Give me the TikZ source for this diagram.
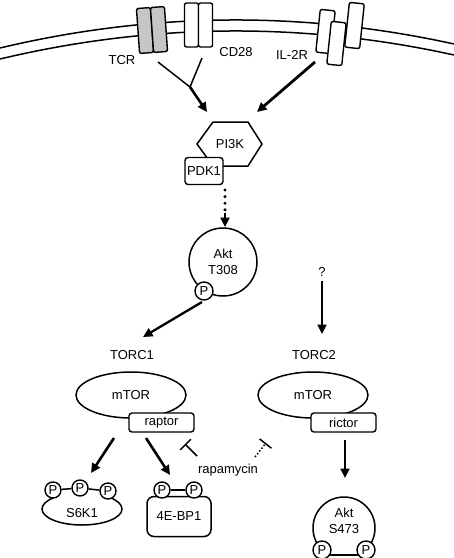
\documentclass[tikz,border=0pt]{standalone}
\usepackage{fontspec}
\setmainfont{Liberation Sans}
\usetikzlibrary{arrows.meta,shapes.geometric}
\begin{document}
\begin{tikzpicture}[x=1pt,y=1pt,yscale=-1,
  every node/.style={font=\fontsize{13}{15.5}\selectfont, inner sep=0pt},
  mem/.style={line width=1.5pt},
  rec/.style={draw, line width=1.4pt, rounded corners=2pt, minimum width=14pt, minimum height=45pt},
  thinl/.style={line width=1.5pt},
  act/.style={line width=2.6pt, -{Triangle[length=9.5pt,width=9pt]}},
  pcirc/.style={circle, draw, fill=white, line width=1.4pt, minimum size=16pt, inner sep=0pt},
  box/.style={draw, line width=1.4pt, rounded corners=3pt, fill=white},
  inh/.style={line width=1.5pt, -{Bar[width=15pt,line width=1.5pt]}},
  blob/.style={draw, line width=1.5pt, fill=white},
]
\useasboundingbox (0,0) rectangle (454,558);
% membrane
\draw[mem] (0,48) .. controls (151.3,12) and (302.7,10.7) .. (454,44);
\draw[mem] (0,59) .. controls (151.3,23) and (302.7,21.7) .. (454,55);
% receptors
\node[rec, fill=gray!45, rotate=4] (tcra) at (145,30.5) {};
\node[rec, fill=gray!45, rotate=4] (tcrb) at (159,29.5) {};
\node[rec, fill=white, minimum height=44pt] (cda) at (191.5,25) {};
\node[rec, fill=white, minimum height=44pt] (cdb) at (205.5,25) {};
\node[rec, fill=white, rotate=-6, minimum width=15pt, minimum height=43pt] (ila) at (325.5,31.5) {};
\node[rec, fill=white, rotate=-6, minimum width=15pt, minimum height=43pt] (ilb) at (336.5,43.5) {};
\node[rec, fill=white, rotate=-6, minimum width=15pt, minimum height=45pt] (ilc) at (354.5,25.5) {};
% labels
\node (tcrl) at (122,60) {TCR};
\node (cdl) at (236,52) {CD28};
\node (ill) at (292,55) {IL-2R};
% PI3K / PDK1
\draw[thinl, fill=white] (197,144) -- (213,122) -- (248,122) -- (262,144) -- (248,166) -- (213,166) -- cycle;
\node (pi3k) at (230,144) {PI3K};
\node[box, minimum width=38pt, minimum height=27pt] (pdk) at (204,171) {PDK1};
% receptor arrows
\coordinate (tcrs) at (158,62);
\coordinate (cds) at (202,58);
\coordinate (j) at (190,87);
\coordinate (pia) at (207,112);
\coordinate (ils) at (315,62);
\coordinate (pib) at (257,112);
\draw[thinl] (tcrs) -- (j) -- (cds);
\draw[act] (j) -- (pia);
\draw[act, line width=2.8pt] (ils) -- (pib);
% Akt T308
\node[circle, draw, line width=1.5pt, minimum size=68pt, align=center] (aktT) at (223,262) {Akt\\T308};
\node[pcirc, minimum size=18pt] (pT) at (204,291) {P};
\coordinate (d1) at (225,190);
\coordinate (d2) at (225,210);
\coordinate (d3) at (225,227);
\draw[line width=3.4pt, line cap=round, dash pattern=on 0pt off 6.6pt] (d1) -- (d2);
\draw[act] ([yshift=3pt]d2) -- (d3);
% TORC1
\node (torc1) at (132,355) {TORC1};
\node[ellipse, draw, line width=1.5pt, minimum width=110pt, minimum height=46pt] (mtor1) at (131,395) {mTOR};
\node[box, minimum width=65pt, minimum height=19pt] (raptor) at (161.5,422.5) {raptor};
\coordinate (t1a) at (202,302);
\coordinate (t1b) at (143,337);
\draw[act, line width=2.3pt] (t1a) -- (t1b);
% TORC2
\node (q) at (322,272) {?};
\coordinate (qa) at (322,281);
\coordinate (qb) at (322,334);
\draw[act, line width=2.3pt] (qa) -- (qb);
\node (torc2) at (314,355) {TORC2};
\node[ellipse, draw, line width=1.5pt, minimum width=110pt, minimum height=46pt] (mtor2) at (313,395) {mTOR};
\node[box, minimum width=65pt, minimum height=19pt] (rictor) at (343.5,422.5) {rictor};
% downstream arrows
\coordinate (ra1) at (114,438);
\coordinate (ra2) at (91,473);
\coordinate (rb1) at (146,438);
\coordinate (rb2) at (170,475);
\coordinate (rc1) at (345,440);
\coordinate (rc2) at (345,478);
\draw[act] (ra1) -- (ra2);
\draw[act] (rb1) -- (rb2);
\draw[act, line width=2.3pt] (rc1) -- (rc2);
% rapamycin
\node (rapa) at (228,470) {rapamycin};
\coordinate (i1a) at (197,456);
\coordinate (i1b) at (185,444);
\coordinate (i2a) at (255,457);
\coordinate (i2b) at (266,443);
\draw[inh] (i1a) -- (i1b);
\draw[inh, dotted] (i2a) -- (i2b);
% S6K1
\draw[blob] (82,509) ++(225:40 and 16) arc[start angle=225, end angle=-45, x radius=40, y radius=16];
\node (s6k1) at (82,513) {S6K1};
\node[pcirc] (s1) at (53,490) {P};
\node[pcirc] (s2) at (80,488) {P};
\node[pcirc] (s3) at (108,491) {P};
\draw[thinl] (s1) -- (s2) -- (s3);
% 4E-BP1
\node[draw, line width=1.5pt, rounded corners=7pt, minimum width=64pt, minimum height=40pt] (ebp) at (179,516.5) {4E-BP1};
\node[pcirc] (e1) at (162,490) {P};
\node[pcirc] (e2) at (194,490) {P};
\draw[thinl] (e1) -- (e2);
% Akt S473
\draw[line width=1.5pt] (344,528) ++(135:31) arc[start angle=135, end angle=405, radius=31];
\node[align=center] (aktS) at (344,521) {Akt\\S473};
\node[pcirc, minimum size=18pt] (a1) at (322,550) {P};
\node[pcirc, minimum size=18pt] (a2) at (366,550) {P};
\draw[thinl] ([yshift=-2pt]a1.south east) -- ([yshift=-2pt]a2.south west);
\end{tikzpicture}
\end{document}
